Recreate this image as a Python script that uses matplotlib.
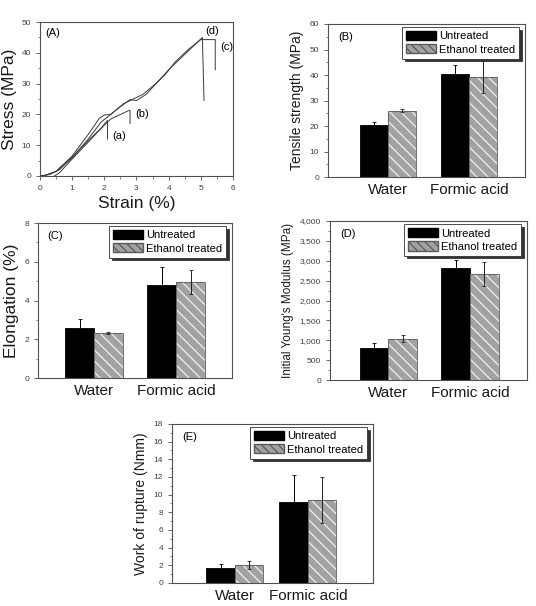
import matplotlib
matplotlib.use("Agg")
import matplotlib.pyplot as plt
from matplotlib.patches import Patch
from matplotlib.ticker import MultipleLocator, StrMethodFormatter

# === Data ===
# (A) stress-strain curves
strain_a = [0.45, 0.6, 1.0, 1.5, 1.9, 2.05, 2.1, 2.1]
stress_a = [0.0, 1.0, 5.5, 11.0, 15.5, 17.5, 18.0, 12.0]
strain_b = [0.1, 0.5, 1.0, 1.5, 2.0, 2.2, 2.4, 2.75, 2.8, 2.8]
stress_b = [0.0, 1.5, 6.0, 11.5, 16.5, 18.5, 19.5, 21.2, 21.3, 17.0]
strain_c = [0.0, 0.3, 0.6, 1.0, 1.5, 1.9, 2.2, 2.6, 2.9, 3.2, 3.6, 3.9, 4.2, 4.6, 5.0, 5.2, 5.45, 5.45]
stress_c = [0.0, 0.5, 2.0, 6.0, 12.0, 17.5, 20.0, 23.5, 25.0, 26.5, 30.0, 33.0, 37.0, 41.0, 44.3, 44.3, 44.3, 34.5]
strain_d = [0.0, 0.2, 0.5, 1.0, 1.5, 1.85, 2.0, 2.2, 2.5, 2.8, 3.0, 3.3, 3.7, 4.0, 4.4, 4.8, 5.05, 5.1]
stress_d = [0.0, 0.3, 1.5, 6.5, 13.5, 18.8, 19.8, 20.0, 22.5, 24.8, 24.5, 26.5, 31.0, 34.5, 38.5, 42.5, 45.0, 24.5]

categories = ["Water", "Formic acid"]
series = ["Untreated", "Ethanol treated"]

tensile_untreated = [20.5, 40.5]
tensile_untreated_err = [1.0, 3.5]
tensile_ethanol = [26.0, 39.2]
tensile_ethanol_err = [0.6, 6.2]

elong_untreated = [2.6, 4.8]
elong_untreated_err = [0.45, 0.95]
elong_ethanol = [2.3, 4.95]
elong_ethanol_err = [0.05, 0.62]

modulus_untreated = [800, 2830]
modulus_untreated_err = [120, 190]
modulus_ethanol = [1040, 2670]
modulus_ethanol_err = [80, 295]

rupture_untreated = [1.75, 9.2]
rupture_untreated_err = [0.45, 3.0]
rupture_ethanol = [2.05, 9.4]
rupture_ethanol_err = [0.42, 2.6]

# === Style ===
plt.rcParams.update({
    "font.family": ["Liberation Sans", "DejaVu Sans"],
    "axes.edgecolor": "#505050",
    "axes.linewidth": 0.8,
    "xtick.color": "#505050",
    "ytick.color": "#505050",
    "xtick.labelcolor": "#404040",
    "ytick.labelcolor": "#404040",
    "xtick.labelsize": 6,
    "ytick.labelsize": 6,
    "xtick.major.size": 3,
    "ytick.major.size": 3,
    "xtick.minor.size": 1.8,
    "ytick.minor.size": 1.8,
    "xtick.major.width": 0.6,
    "ytick.major.width": 0.6,
    "xtick.minor.width": 0.5,
    "ytick.minor.width": 0.5,
    "hatch.linewidth": 0.9,
})

BLACK = "black"
GRAY = "#a2a2a2"
HATCH_EDGE = "#f0f0f0"

fig = plt.figure(figsize=(5.36, 6.06), dpi=100)


def bar_panel(rect, tag, unt, unt_err, eth, eth_err, ylim, major, minor,
              ylabel, ylabel_size, xlim, width=0.35, comma=False):
    ax = fig.add_axes(rect)
    x = [0, 1]
    xu = [v - width / 2 for v in x]
    xe = [v + width / 2 for v in x]
    ax.bar(xu, unt, width, color=BLACK, edgecolor=BLACK, linewidth=0.6)
    ax.bar(xe, eth, width, color=GRAY, edgecolor=HATCH_EDGE, linewidth=0, hatch="\\\\\\")
    ax.bar(xe, eth, width, fill=False, edgecolor="#5a5a5a", linewidth=0.6)
    ax.errorbar(xu, unt, yerr=unt_err, fmt="none", ecolor=BLACK, elinewidth=0.7,
                capsize=1.5, capthick=0.6)
    ax.errorbar(xe, eth, yerr=eth_err, fmt="none", ecolor="#222222", elinewidth=0.7,
                capsize=1.5, capthick=0.6)
    ax.set_xlim(*xlim)
    ax.set_ylim(*ylim)
    ax.set_xticks(x)
    ax.set_xticklabels(categories, fontsize=11, color="#1a1a1a")
    ax.tick_params(axis="x", length=0, pad=4)
    ax.yaxis.set_major_locator(MultipleLocator(major))
    ax.yaxis.set_minor_locator(MultipleLocator(minor))
    if comma:
        ax.yaxis.set_major_formatter(StrMethodFormatter("{x:,.0f}"))
    ax.set_ylabel(ylabel, fontsize=ylabel_size, color="#1a1a1a")
    ax.text(0.05, 0.95, tag, transform=ax.transAxes, fontsize=8, va="top", ha="left")
    handles = [Patch(facecolor=BLACK, edgecolor=BLACK),
               Patch(facecolor=GRAY, edgecolor="#5a5a5a", hatch="\\\\\\\\")]
    leg = ax.legend(handles, series, loc="upper right", fontsize=8, frameon=True,
                    fancybox=False, shadow={"color": "#333333", "alpha": 1},
                    edgecolor="#303030", handlelength=2.7, handleheight=0.9,
                    handletextpad=0.3, borderpad=0.35, labelspacing=0.25,
                    bbox_to_anchor=(0.97, 0.98), borderaxespad=0)
    leg.get_frame().set_linewidth(0.6)
    return ax


# === (A) Stress-strain ===
axA = fig.add_axes([0.0746, 0.7096, 0.360, 0.254])
for sx, sy in [(strain_a, stress_a), (strain_b, stress_b),
               (strain_c, stress_c), (strain_d, stress_d)]:
    axA.plot(sx, sy, color="#3a3a3a", linewidth=0.7)
axA.set_xlim(0, 6)
axA.set_ylim(0, 50)
axA.xaxis.set_major_locator(MultipleLocator(1))
axA.xaxis.set_minor_locator(MultipleLocator(0.5))
axA.yaxis.set_major_locator(MultipleLocator(10))
axA.yaxis.set_minor_locator(MultipleLocator(5))
axA.set_xlabel("Strain (%)", fontsize=12.5, color="#1a1a1a", labelpad=3)
axA.set_ylabel("Stress (MPa)", fontsize=12.5, color="#1a1a1a", labelpad=3)
axA.text(0.17, 46.5, "(A)", fontsize=8, va="center")
axA.text(2.25, 13, "(a)", fontsize=8, va="center")
axA.text(2.95, 20, "(b)", fontsize=8, va="center")
axA.text(5.6, 42, "(c)", fontsize=8, va="center")
axA.text(5.15, 47, "(d)", fontsize=8, va="center")

# === (B)-(E) Bar charts ===
bar_panel([0.612, 0.7079, 0.3675, 0.2525], "(B)",
          tensile_untreated, tensile_untreated_err, tensile_ethanol, tensile_ethanol_err,
          (0, 60), 10, 5, "Tensile strength (MPa)", 10, (-0.74, 1.69))
bar_panel([0.0709, 0.3762, 0.362, 0.2558], "(C)",
          elong_untreated, elong_untreated_err, elong_ethanol, elong_ethanol_err,
          (0, 8), 2, 1, "Elongation (%)", 12.5, (-0.68, 1.68))
bar_panel([0.6157, 0.3729, 0.3675, 0.2624], "(D)",
          modulus_untreated, modulus_untreated_err, modulus_ethanol, modulus_ethanol_err,
          (0, 4000), 500, 250, "Initial Young's Modulus (MPa)", 8.5, (-0.71, 1.695),
          comma=True)
bar_panel([0.3209, 0.0380, 0.375, 0.2624], "(E)",
          rupture_untreated, rupture_untreated_err, rupture_ethanol, rupture_ethanol_err,
          (0, 18), 2, 1, "Work of rupture (Nmm)", 10, (-0.86, 1.89), width=0.39)

fig.savefig("out.png", dpi=100)
plt.close(fig)
